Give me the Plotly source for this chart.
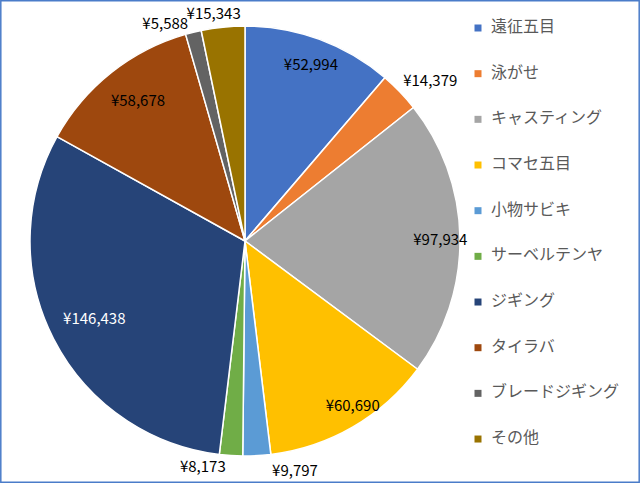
import plotly.graph_objects as go

labels = ["遠征五目", "泳がせ", "キャスティング", "コマセ五目", "小物サビキ",
          "サーベルテンヤ", "ジギング", "タイラバ", "ブレードジギング", "その他"]
values = [52994, 14379, 97934, 60690, 9797, 8173, 146438, 58678, 5588, 15343]
colors = ["#4472C4", "#ED7D31", "#A5A5A5", "#FFC000", "#5B9BD5",
          "#70AD47", "#264478", "#9E480E", "#636363", "#997300"]
text_colors = ["#000000", "#000000", "#000000", "#000000", "#000000",
               "#000000", "#FFFFFF", "#000000", "#000000", "#000000"]
value_text = ["¥{:,}".format(v) for v in values]

W, H = 640, 483
FONT = "Noto Sans CJK JP, Open Sans"

# label placement: which (invisible) pie frame places each slice's value label
label_group = ["a", "b", "c", "d", "e", "rim", "f", "g", "rim", "h"]
frames = {                      # centre x, centre y, radius (pixels)
    "a": (237, 185, 120),
    "b": (243, 234, 215),
    "c": (245, 241, 163),
    "d": (230, 241, 180),
    "e": (255, 244, 215),
    "f": (251, 254, 135),
    "g": (245, 200, 120),
    "h": (268, 237, 215),
}


def dom(cx, cy, r):
    return dict(x=[(cx - r) / W, (cx + r) / W], y=[(H - cy - r) / H, (H - cy + r) / H])


def pos_for(group):
    return ["outside" if g == group else "none" for g in label_group]


fig = go.Figure()
# main pie (slices + labels at the rim)
fig.add_trace(go.Pie(
    labels=labels, values=values, sort=False, direction="clockwise", rotation=0,
    text=value_text, textinfo="text", textposition=pos_for("rim"),
    automargin=False,
    outsidetextfont=dict(color=text_colors, size=15, family=FONT),
    marker=dict(colors=colors, line=dict(color="white", width=1.5)),
    domain=dom(245, 241, 215),
    showlegend=False, hoverinfo="label+value",
))

# transparent helper pies used only to place value labels
for group, (hx, hy, hr) in frames.items():
    fig.add_trace(go.Pie(
        labels=labels, values=values, sort=False, direction="clockwise", rotation=0,
        text=value_text, textinfo="text", textposition=pos_for(group),
        automargin=False,
        outsidetextfont=dict(color=text_colors, size=15, family=FONT),
        marker=dict(colors=["rgba(0,0,0,0)"] * len(values), line=dict(width=0)),
        domain=dom(hx, hy, hr),
        showlegend=False, hoverinfo="skip",
    ))

# custom legend drawn through a category axis
n = len(labels)
step = 45.67
top = 28
span = H / step
fig.add_trace(go.Scatter(
    x=[0] * n, y=labels, mode="markers",
    marker=dict(symbol="square", size=7, color=colors),
    showlegend=False, hoverinfo="skip", xaxis="x", yaxis="y",
))
fig.add_trace(go.Scatter(
    x=[0] * n, y=labels, mode="markers+text",
    marker=dict(symbol="square", size=19, color="rgba(0,0,0,0)"),
    text=labels, textposition="middle right",
    textfont=dict(size=16, color="#595959", family="Noto Sans CJK JP"),
    cliponaxis=False, showlegend=False, hoverinfo="skip", xaxis="x", yaxis="y",
))

fig.update_layout(
    width=W, height=H, margin=dict(l=0, r=0, t=0, b=0, autoexpand=False),
    paper_bgcolor="white", plot_bgcolor="rgba(0,0,0,0)",
    xaxis=dict(domain=[468 / W, 488 / W], range=[-1, 1], visible=False, fixedrange=True),
    yaxis=dict(domain=[0, 1], type="category", categoryorder="array", categoryarray=labels,
               range=[-top / step + span, -top / step], visible=False, fixedrange=True),
    shapes=[dict(type="rect", xref="paper", yref="paper",
                 x0=0.8 / W, y0=0.8 / H, x1=1 - 0.8 / W, y1=1 - 0.8 / H,
                 line=dict(color="#4A7CC9", width=1.5))],
)

post = ("document.body.style.margin='0';"
        "var gd=document.getElementById('{plot_id}');"
        "gd.style.position='absolute';gd.style.left='0px';gd.style.top='0px';")
fig.write_html("out.html", post_script=post, config={"displayModeBar": False})
